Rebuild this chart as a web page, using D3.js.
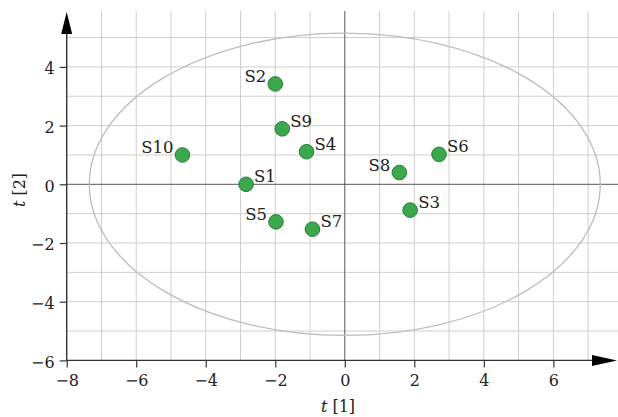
<!DOCTYPE html>
<html>
<head>
<meta charset="utf-8">
<script src="https://cdn.jsdelivr.net/npm/d3@7"></script>
</head>
<body style="margin:0">
<svg id="chart" width="618" height="417"></svg>
<script>
// ---- data ----
const sampleNames = ["S1", "S2", "S3", "S4", "S5", "S6", "S7", "S8", "S9", "S10"];
const t1Values = [-2.84, -2.00, 1.88, -1.10, -1.98, 2.71, -0.93, 1.57, -1.80, -4.67];
const t2Values = [0.00, 3.42, -0.88, 1.11, -1.28, 1.02, -1.53, 0.40, 1.89, 1.00];
const labelSide = ["R", "L", "R", "R", "L", "R", "R", "L", "R", "L"];
const xTicks = [-8, -6, -4, -2, 0, 2, 4, 6];
const yTicks = [-6, -4, -2, 0, 2, 4];
const xGrid = [-7, -6, -5, -4, -3, -2, -1, 1, 2, 3, 4, 5, 6, 7];
const yGrid = [-5, -4, -3, -2, -1, 1, 2, 3, 4, 5];
const ellipseRadii = [7.35, 5.15]; // Hotelling T2 ellipse semi-axes (t1, t2)

// ---- scales ----
const x = d3.scaleLinear().domain([-8, 8]).range([66.7, 622.9]);
const y = d3.scaleLinear().domain([-6, 0]).range([360.4, 184.3]);

const FONT = "DejaVu Serif";
const TXT = "#222";
const svg = d3.select("#chart").attr("font-family", FONT);
const xLeft = x(-8), yBottom = y(-6);
const topY = 11, rightX = 618;

// grid
svg.append("g").selectAll("line").data(xGrid).join("line")
  .attr("x1", d => x(d)).attr("x2", d => x(d))
  .attr("y1", topY).attr("y2", yBottom)
  .attr("stroke", "#cfcfcf").attr("stroke-width", 1);
svg.append("g").selectAll("line").data(yGrid).join("line")
  .attr("x1", xLeft).attr("x2", rightX)
  .attr("y1", d => y(d)).attr("y2", d => y(d))
  .attr("stroke", "#cfcfcf").attr("stroke-width", 1);

// zero lines
svg.append("line").attr("x1", x(0)).attr("x2", x(0)).attr("y1", topY).attr("y2", yBottom)
  .attr("stroke", "#555").attr("stroke-width", 1);
svg.append("line").attr("x1", xLeft).attr("x2", rightX).attr("y1", y(0)).attr("y2", y(0))
  .attr("stroke", "#555").attr("stroke-width", 1);

// ellipse
svg.append("ellipse")
  .attr("cx", x(0)).attr("cy", y(0))
  .attr("rx", x(ellipseRadii[0]) - x(0))
  .attr("ry", y(0) - y(ellipseRadii[1]))
  .attr("fill", "none").attr("stroke", "#bdbdbd").attr("stroke-width", 1.3);

// axes
const fmt = d => String(d).replace("-", "\u2212");
const xAxis = d3.axisBottom(x).tickValues(xTicks).tickSize(7).tickPadding(7).tickFormat(fmt);
const gx = svg.append("g").attr("transform", `translate(0,${yBottom})`).call(xAxis);
gx.attr("font-family", FONT).attr("font-size", 16);
gx.select(".domain").remove();
gx.selectAll(".tick line").attr("stroke", "#333").attr("stroke-width", 1.2);
gx.selectAll(".tick text").attr("fill", TXT).attr("font-family", FONT);

const yAxis = d3.axisLeft(y).tickValues(yTicks).tickSize(7).tickPadding(5).tickFormat(fmt);
const gy = svg.append("g").attr("transform", `translate(${xLeft},0)`).call(yAxis);
gy.attr("font-family", FONT).attr("font-size", 16);
gy.select(".domain").remove();
gy.selectAll(".tick line").attr("stroke", "#333").attr("stroke-width", 1.2);
gy.selectAll(".tick text").attr("fill", TXT).attr("font-family", FONT).attr("dy", "0.42em");

// axis lines with arrows
svg.append("line").attr("x1", xLeft - 0.5).attr("x2", 600).attr("y1", yBottom).attr("y2", yBottom)
  .attr("stroke", "#333").attr("stroke-width", 1.4);
svg.append("path")
  .attr("d", `M${617},${yBottom} L${592},${yBottom - 5.5} L${592},${yBottom + 5.5} Z`)
  .attr("fill", "#000");
svg.append("line").attr("x1", xLeft).attr("x2", xLeft).attr("y1", yBottom + 0.5).attr("y2", 30)
  .attr("stroke", "#333").attr("stroke-width", 1.4);
svg.append("path")
  .attr("d", `M${xLeft},${12} L${xLeft - 5.5},${34} L${xLeft + 5.5},${34} Z`)
  .attr("fill", "#000");

// axis titles
const xt = svg.append("text").attr("x", 338).attr("y", 412).attr("text-anchor", "middle")
  .attr("font-family", FONT).attr("font-size", 16).attr("fill", TXT);
xt.append("tspan").attr("font-style", "italic").text("t");
xt.append("tspan").text(" [1]");
const yt = svg.append("text").attr("transform", "translate(25,190) rotate(-90)").attr("text-anchor", "middle")
  .attr("font-family", FONT).attr("font-size", 16).attr("fill", TXT);
yt.append("tspan").attr("font-style", "italic").text("t");
yt.append("tspan").text(" [2]");

// points
const pts = sampleNames.map((n, i) => ({ name: n, t1: t1Values[i], t2: t2Values[i], side: labelSide[i] }));
svg.append("g").selectAll("circle").data(pts).join("circle")
  .attr("cx", d => x(d.t1)).attr("cy", d => y(d.t2)).attr("r", 7.3)
  .attr("fill", "#3ca84e").attr("stroke", "#2a7c38").attr("stroke-width", 1);

svg.selectAll("text.lbl").data(pts).join("text")
  .attr("class", "lbl")
  .attr("x", d => x(d.t1) + (d.side === "R" ? 8 : -9))
  .attr("y", d => y(d.t2) - 2)
  .attr("text-anchor", d => d.side === "R" ? "start" : "end")
  .attr("font-family", FONT).attr("font-size", 16.5).attr("fill", TXT)
  .text(d => d.name);
</script>
</body>
</html>
